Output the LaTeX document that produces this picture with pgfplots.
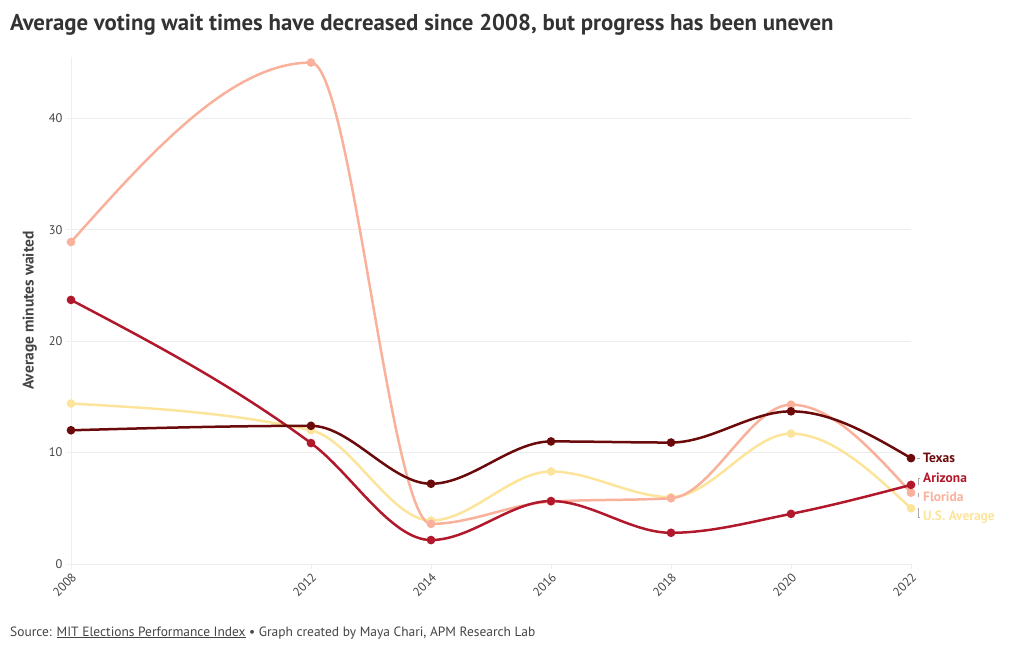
\documentclass[border=0pt]{standalone}
\usepackage{pgfplots}
\pgfplotsset{compat=1.18}
\usepackage{fontspec}
\setmainfont{PT Sans}
\definecolor{texas}{HTML}{6B0A0A}
\definecolor{arizona}{HTML}{B2182B}
\definecolor{florida}{HTML}{F9B19B}
\definecolor{usavg}{HTML}{FDE49B}
\definecolor{txtgray}{HTML}{444444}
\definecolor{titlegray}{HTML}{333333}
\definecolor{gridgray}{HTML}{EEEEEE}
\definecolor{conngray}{HTML}{AAAAAA}
\tikzset{conn/.style={draw=conngray, line width=0.8bp}}
\makeatletter
% monotone-x cubic plot handler (as d3.curveMonotoneX), working on the plotted data points
\newcount\mono@n
\def\mono@point#1{%
  \pgf@process{#1}%
  \global\advance\mono@n by 1\relax
  \expandafter\xdef\csname mono@x@\the\mono@n\endcsname{\pgf@sys@tonumber\pgf@x}%
  \expandafter\xdef\csname mono@y@\the\mono@n\endcsname{\pgf@sys@tonumber\pgf@y}%
}
\def\mono@end{%
  \edef\mono@nm{\the\numexpr\mono@n-1\relax}%
  \ifnum\mono@n>2
  \pgfplotsforeachungrouped \i in {1,...,\mono@nm}{%
    \edef\mono@ip{\the\numexpr\i+1\relax}%
    \pgfmathsetmacro\mono@hh{(\csname mono@x@\mono@ip\endcsname)-(\csname mono@x@\i\endcsname)}%
    \pgfmathsetmacro\mono@ss{((\csname mono@y@\mono@ip\endcsname)-(\csname mono@y@\i\endcsname))/(\mono@hh)}%
    \expandafter\xdef\csname mono@h@\i\endcsname{\mono@hh}%
    \expandafter\xdef\csname mono@s@\i\endcsname{\mono@ss}%
  }%
  \pgfplotsforeachungrouped \i in {2,...,\mono@nm}{%
    \edef\mono@im{\the\numexpr\i-1\relax}%
    \edef\mono@hz{\csname mono@h@\mono@im\endcsname}%
    \edef\mono@ho{\csname mono@h@\i\endcsname}%
    \edef\mono@sz{\csname mono@s@\mono@im\endcsname}%
    \edef\mono@so{\csname mono@s@\i\endcsname}%
    \pgfmathsetmacro\mono@p{((\mono@sz)*(\mono@ho)+(\mono@so)*(\mono@hz))/((\mono@hz)+(\mono@ho))}%
    \pgfmathsetmacro\mono@sgz{(\mono@sz<0) ? -1 : 1}%
    \pgfmathsetmacro\mono@sgo{(\mono@so<0) ? -1 : 1}%
    \pgfmathsetmacro\mono@t{((\mono@sgz)+(\mono@sgo))*min(abs(\mono@sz),abs(\mono@so),0.5*abs(\mono@p))}%
    \expandafter\xdef\csname mono@t@\i\endcsname{\mono@t}%
  }%
  \pgfmathsetmacro\mono@t{(3*(\csname mono@s@1\endcsname)-(\csname mono@t@2\endcsname))/2}%
  \expandafter\xdef\csname mono@t@1\endcsname{\mono@t}%
  \pgfmathsetmacro\mono@t{(3*(\csname mono@s@\mono@nm\endcsname)-(\csname mono@t@\mono@nm\endcsname))/2}%
  \expandafter\xdef\csname mono@t@\the\mono@n\endcsname{\mono@t}%
  \pgfpathmoveto{\pgfqpoint{\csname mono@x@1\endcsname pt}{\csname mono@y@1\endcsname pt}}%
  \pgfplotsforeachungrouped \i in {1,...,\mono@nm}{%
    \edef\mono@ip{\the\numexpr\i+1\relax}%
    \pgfmathsetmacro\mono@d{(\csname mono@h@\i\endcsname)/3}%
    \pgfmathsetmacro\mono@ax{(\csname mono@x@\i\endcsname)+(\mono@d)}%
    \pgfmathsetmacro\mono@ay{(\csname mono@y@\i\endcsname)+(\mono@d)*(\csname mono@t@\i\endcsname)}%
    \pgfmathsetmacro\mono@bx{(\csname mono@x@\mono@ip\endcsname)-(\mono@d)}%
    \pgfmathsetmacro\mono@by{(\csname mono@y@\mono@ip\endcsname)-(\mono@d)*(\csname mono@t@\mono@ip\endcsname)}%
    \pgfpathcurveto{\pgfqpoint{\mono@ax pt}{\mono@ay pt}}{\pgfqpoint{\mono@bx pt}{\mono@by pt}}{\pgfqpoint{\csname mono@x@\mono@ip\endcsname pt}{\csname mono@y@\mono@ip\endcsname pt}}%
  }%
  \fi
}
\pgfdeclareplothandler{\pgfplothandlermonotone}{}{%
  start={\global\mono@n=0\relax},
  point macro=\mono@point,
  jump={},
  end={\mono@end}
}
\tikzset{monotone/.code={\let\tikz@plot@handler=\pgfplothandlermonotone}}
\makeatother
\begin{document}
\begin{tikzpicture}[x=1bp,y=1bp]
\path[use as bounding box] (0,0) rectangle (1020bp,650bp);
\node[anchor=base west, font=\bfseries\fontsize{22.9}{26}\selectfont, text=titlegray, inner sep=0] at (10bp,619bp) {Average voting wait times have decreased since 2008, but progress has been uneven};
\begin{axis}[
  at={(71bp,86bp)}, anchor=south west,
  scale only axis, width=840bp, height=507bp,
  xmin=2008, xmax=2022, ymin=0, ymax=45.5,
  clip=false,
  axis x line=bottom, axis y line=left,
  axis line style={draw=gridgray, line width=0.8bp, -},
  xtick={2008,2012,2014,2016,2018,2020,2022},
  ytick={0,10,20,30,40},
  ymajorgrids, grid style={draw=gridgray, line width=0.8bp},
  tick align=outside, major tick length=5bp,
  tick style={draw=gridgray, line width=0.8bp},
  /pgf/number format/1000 sep={},
  /pgf/number format/assume math mode=true,
  tick label style={font=\fontsize{12.5}{14}\selectfont, text=txtgray},
  x tick label style={rotate=45, anchor=north east, inner sep=2bp},
  ylabel={Average minutes waited},
  ylabel style={at={(axis description cs:-0.049,0.5)}, anchor=center, font=\bfseries\fontsize{15.5}{17}\selectfont, text=txtgray},
  every axis plot/.append style={monotone, line width=2.5bp, mark=*, mark size=3bp, mark options={line width=0pt}},
]
\addplot[color=usavg, mark options={fill=usavg}] coordinates {(2008,14.4) (2012,12.0) (2014,3.9) (2016,8.3) (2018,6.0) (2020,11.7) (2022,5.0)};
\addplot[color=florida, mark options={fill=florida}] coordinates {(2008,28.9) (2012,45.0) (2014,3.6) (2016,5.6) (2018,5.9) (2020,14.3) (2022,6.4)};
\addplot[color=arizona, mark options={fill=arizona}] coordinates {(2008,23.7) (2012,10.85) (2014,2.15) (2016,5.65) (2018,2.8) (2020,4.5) (2022,7.1)};
\addplot[color=texas, mark options={fill=texas}] coordinates {(2008,12.0) (2012,12.4) (2014,7.2) (2016,11.0) (2018,10.9) (2020,13.7) (2022,9.5)};
\draw[conn] ([xshift=6bp]axis cs:2022,9.5) -- ([xshift=9bp]axis cs:2022,9.5);
\draw[conn] ([xshift=7bp]axis cs:2022,7.1) -- ([xshift=7bp]axis cs:2022,7.7) -- ([xshift=9bp]axis cs:2022,7.7);
\draw[conn] ([xshift=7bp]axis cs:2022,6.4) -- ([xshift=7bp]axis cs:2022,6.0);
\draw[conn] ([xshift=7bp]axis cs:2022,5.0) -- ([xshift=7bp]axis cs:2022,4.2) -- ([xshift=9bp]axis cs:2022,4.2);
\node[anchor=west, font=\bfseries\fontsize{13.5}{15}\selectfont, text=texas, inner sep=0] at (axis cs:2022,9.5) [xshift=12bp] {Texas};
\node[anchor=west, font=\bfseries\fontsize{13.5}{15}\selectfont, text=arizona, inner sep=0] at (axis cs:2022,7.7) [xshift=12bp] {Arizona};
\node[anchor=west, font=\bfseries\fontsize{13.5}{15}\selectfont, text=florida, inner sep=0] at (axis cs:2022,6.0) [xshift=12bp] {Florida};
\node[anchor=west, font=\bfseries\fontsize{13.5}{15}\selectfont, text=usavg, inner sep=0] at (axis cs:2022,4.2) [xshift=12bp] {U.S. Average};
\end{axis}
\node[anchor=base west, font=\fontsize{13.5}{15}\selectfont, text=txtgray, inner sep=0] at (10bp,14bp) {Source: \underline{MIT Elections Performance Index} • Graph created by Maya Chari, APM Research Lab};
\end{tikzpicture}
\end{document}
